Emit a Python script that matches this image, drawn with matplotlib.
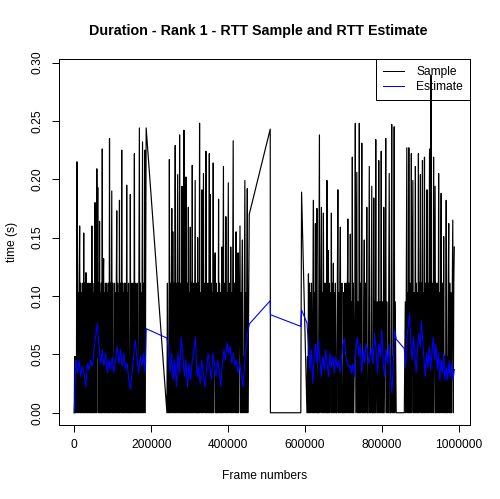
import numpy as np
import matplotlib
matplotlib.use("Agg")
import matplotlib.pyplot as plt

plt.rcParams["font.family"] = ["Liberation Sans", "DejaVu Sans"]

# frame ranges of the four busy stretches
seg_frames = [(0, 187000), (241000, 455000), (605000, 837000), (858000, 988000)]

# RTT samples in ms, one list per stretch
sample_1 = [
    0, 48, 0, 48, 0, 48, 215, 168, 0, 103,
    0, 111, 160, 0, 111, 0, 103, 0, 111, 48,
    0, 154, 0, 111, 0, 103, 120, 0, 111, 0,
    48, 111, 0, 103, 0, 111, 0, 48, 0, 160,
    0, 111, 0, 103, 0, 111, 180, 0, 111, 0,
    209, 48, 193, 0, 111, 0, 164, 0, 103, 0,
    111, 0, 226, 0, 111, 132, 0, 103, 0, 111,
    0, 48, 111, 0, 103, 0, 111, 0, 235, 0,
    111, 0, 103, 190, 0, 111, 0, 48, 0, 111,
    0, 103, 0, 111, 173, 0, 111, 0, 103, 0,
    182, 0, 111, 48, 0, 225, 0, 111, 0, 103,
    0, 111, 0, 48, 111, 0, 195, 0, 103, 0,
    111, 0, 48, 0, 187, 0, 111, 0, 103, 0,
    111, 0, 48, 222, 0, 111, 0, 103, 0, 111,
    0, 48, 0, 111, 244, 0, 111, 0, 103, 0,
    111, 232, 0, 111, 0, 48, 225, 0, 111, 244,
]
sample_2 = [
    0, 111, 0, 48, 0, 217, 0, 111, 0, 103,
    175, 0, 155, 0, 111, 0, 48, 229, 0, 111,
    0, 103, 204, 0, 111, 0, 238, 0, 48, 111,
    0, 194, 0, 103, 0, 242, 0, 111, 0, 202,
    0, 48, 111, 0, 176, 0, 103, 0, 159, 0,
    111, 0, 212, 0, 48, 111, 0, 103, 199, 0,
    111, 0, 0, 150, 0, 111, 0, 248, 0, 103,
    48, 0, 191, 0, 111, 205, 0, 48, 111, 0,
    224, 0, 103, 0, 111, 0, 48, 222, 0, 187,
    0, 111, 0, 103, 0, 214, 0, 48, 111, 137,
    0, 111, 0, 0, 103, 0, 183, 0, 111, 48,
    0, 103, 0, 142, 0, 111, 211, 0, 48, 111,
    0, 168, 0, 103, 0, 111, 197, 0, 48, 111,
    0, 142, 0, 103, 0, 111, 233, 0, 48, 111,
    0, 103, 155, 0, 111, 0, 137, 0, 48, 111,
    160, 0, 103, 0, 111, 148, 0, 48, 0, 111,
    199, 0, 103, 0, 111, 192, 0, 48, 111, 170,
]
sample_3 = [
    0, 48, 0, 119, 0, 111, 0, 103, 0, 111,
    48, 0, 111, 182, 0, 103, 0, 162, 0, 111,
    175, 0, 0, 0, 111, 238, 0, 48, 111, 176,
    0, 103, 0, 171, 0, 111, 0, 48, 111, 0,
    199, 0, 0, 139, 0, 111, 0, 103, 48, 171,
    0, 111, 0, 128, 0, 103, 0, 111, 48, 0,
    0, 111, 191, 0, 103, 0, 111, 159, 0, 48,
    111, 0, 0, 0, 103, 0, 111, 0, 48, 111,
    0, 95, 166, 0, 111, 0, 48, 153, 0, 95,
    0, 219, 0, 111, 0, 48, 95, 248, 0, 111,
    206, 0, 95, 0, 48, 248, 0, 111, 0, 95,
    231, 0, 48, 0, 95, 148, 0, 111, 0, 48,
    176, 0, 0, 0, 95, 211, 0, 48, 0, 95,
    194, 0, 0, 0, 184, 0, 95, 0, 234, 0,
    48, 95, 0, 48, 216, 0, 95, 0, 48, 224,
    0, 95, 0, 0, 176, 0, 48, 95, 235, 0,
    95, 0, 48, 0, 95, 205, 0, 0, 0, 95,
    247, 0, 48, 0, 95, 245, 0, 95, 48, 0,
]
sample_4 = [
    0, 48, 95, 0, 111, 227, 0, 103, 0, 227,
    0, 111, 48, 0, 222, 0, 111, 199, 0, 103,
    0, 48, 211, 0, 111, 0, 103, 0, 222, 0,
    111, 48, 204, 0, 111, 0, 216, 0, 103, 0,
    219, 0, 111, 0, 48, 191, 0, 111, 0, 103,
    226, 0, 111, 289, 0, 48, 111, 0, 219, 0,
    103, 194, 0, 111, 0, 48, 111, 0, 205, 0,
    103, 0, 111, 188, 0, 48, 111, 0, 151, 0,
    48, 0, 48, 182, 0, 48, 0, 111, 162, 0,
    111, 0, 103, 0, 48, 111, 165, 0, 111, 142,
]

# RTT estimate in ms, one list per stretch
estimate_1 = [
    0, 22, 45, 38, 34, 41, 45, 36, 31, 38, 40, 35, 34, 27, 22, 33, 42, 39,
    37, 43, 45, 41, 40, 47, 54, 60, 65, 71, 77, 66, 57, 49, 42, 48, 54, 46,
    40, 46, 51, 42, 34, 40, 45, 40, 37, 43, 48, 40, 34, 39, 45, 51, 57, 49,
    42, 48, 54, 47, 40, 45, 51, 44, 37, 40, 42, 35, 28, 24, 20, 27, 34, 43,
    51, 57, 62, 53, 45, 39, 34, 41, 48, 44, 40, 46, 51, 43, 34, 72,
]
estimate_2 = [
    64, 54, 34, 51, 28, 45, 22, 51, 34, 65, 51, 31, 45, 22, 42, 28, 45, 54,
    65, 31, 40, 25, 45, 34, 22, 37, 51, 40, 28, 51, 42, 31, 45, 37, 22, 42,
    54, 45, 60, 51, 57, 42, 51, 40, 45, 34, 42, 31, 22, 40, 57, 68, 76,
]
estimate_3 = [
    77, 59, 37, 54, 25, 48, 59, 42, 62, 45, 31, 48, 37, 54, 42, 31, 51, 39,
    48, 34, 48, 39, 45, 34, 48, 59, 64, 48, 42, 39, 41, 34, 42, 31, 54, 65,
    48, 59, 34, 54, 42, 59, 54, 42, 48, 56, 42, 68, 54, 34, 59, 48, 71, 42,
    31, 54, 42, 59, 34, 17, 42, 71, 63,
]
estimate_4 = [
    55, 39, 65, 74, 85, 59, 45, 65, 51, 34, 54, 68, 56, 79, 62, 45, 31, 51,
    39, 56, 37, 51, 65, 45, 59, 37, 51, 28, 45, 34, 51, 28, 39, 28, 45, 31,
    42, 28, 37,
]

# lone points between stretches 2 and 3
bridge_frames = [509500, 510000, 589000, 591000]
bridge_sample = [243, 0, 0, 189]
bridge_estimate = [96, 84, 74, 88]

x_ticks = [0, 200000, 400000, 600000, 800000, 1000000]
x_tick_labels = ["0", "200000", "400000", "600000", "800000", "1000000"]
y_ticks = [0.0, 0.05, 0.10, 0.15, 0.20, 0.25, 0.30]
y_tick_labels = ["0.00", "0.05", "0.10", "0.15", "0.20", "0.25", "0.30"]


def stitch(parts, bridge_vals):
    xs, ys = [], []
    for k, ((a, b), vals) in enumerate(zip(seg_frames, parts)):
        xs.append(np.linspace(a, b, len(vals)))
        ys.append(np.asarray(vals, dtype=float))
        if k == 1:
            xs.append(np.asarray(bridge_frames, dtype=float))
            ys.append(np.asarray(bridge_vals, dtype=float))
    return np.concatenate(xs), np.concatenate(ys) / 1000.0


sx, sy = stitch([sample_1, sample_2, sample_3, sample_4], bridge_sample)
ex, ey = stitch([estimate_1, estimate_2, estimate_3, estimate_4], bridge_estimate)

fig = plt.figure(figsize=(5.0, 4.99), dpi=100)
ax = fig.add_axes([59 / 500, 74 / 499, 411 / 500, 365.7 / 499])

ax.plot(sx, sy, color="black", lw=0.85, label="Sample", zorder=6)
ax.plot(ex, ey, color="blue", lw=0.8, label="Estimate", zorder=7)

ax.set_xlim(-39570, 1028830)
ax.set_ylim(-0.0105, 0.3028)
ax.set_xticks(x_ticks)
ax.set_xticklabels(x_tick_labels)
ax.set_yticks(y_ticks)
ax.set_yticklabels(y_tick_labels, rotation=90, va="center")

ax.tick_params(direction="out", length=5, width=0.72, labelsize=8.64,
               color="black")
ax.tick_params(axis="x", pad=5)
ax.tick_params(axis="y", pad=6)
for sp in ax.spines.values():
    sp.set_linewidth(0.72)
    sp.set_color("black")

leg = ax.legend(loc="upper right", borderaxespad=0, fancybox=False,
                edgecolor="black", framealpha=1, fontsize=8.64,
                handlelength=1.75, handletextpad=1.0, borderpad=0.6,
                labelspacing=0.2)
leg.get_frame().set_linewidth(0.72)
for line in leg.get_lines():
    line.set_linewidth(0.72)

fig.text(258.5 / 500, 1 - 30.8 / 499,
         "Duration - Rank 1 - RTT Sample and RTT Estimate",
         ha="center", va="center", fontsize=10.3, fontweight="bold")
fig.text(264.5 / 500, 1 - 476 / 499, "Frame numbers",
         ha="center", va="center", fontsize=8.64)
fig.text(12 / 500, 1 - 242 / 499, "time (s)", rotation=90,
         ha="center", va="center", fontsize=8.64)

fig.savefig("out.png", dpi=100)
plt.close(fig)
